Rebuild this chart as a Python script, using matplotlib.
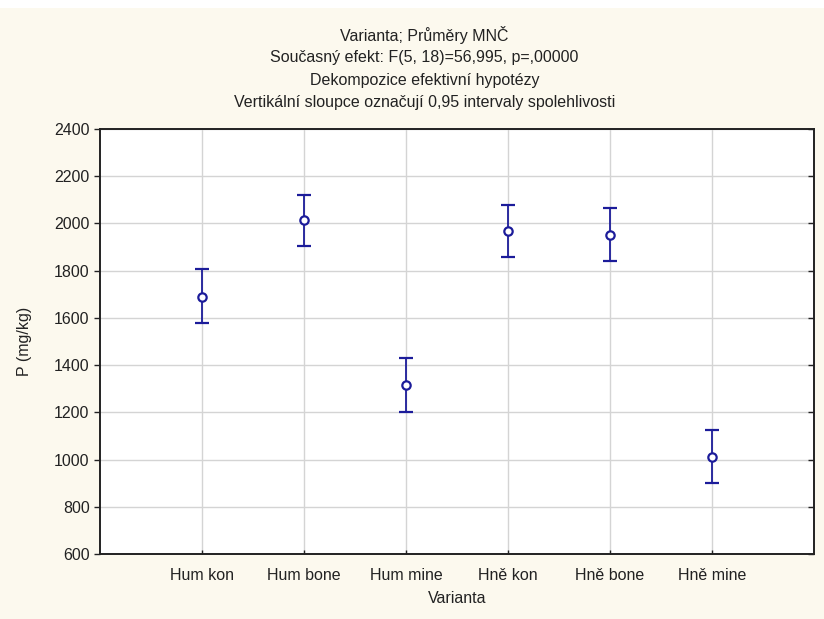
import numpy as np
import matplotlib.pyplot as plt

# group means with 0.95 confidence limits
categories = ["Hum kon", "Hum bone", "Hum mine", "Hně kon", "Hně bone", "Hně mine"]
means = [1690, 2013, 1317, 1968, 1953, 1010]
lower = [1579, 1905, 1202, 1860, 1840, 899]
upper = [1805, 2122, 1430, 2077, 2067, 1124]

title_lines = [
    "Varianta; Průměry MNČ",
    "Současný efekt: F(5, 18)=56,995, p=,00000",
    "Dekompozice efektivní hypotézy",
    "Vertikální sloupce označují 0,95 intervaly spolehlivosti",
]

plt.rcParams['font.family'] = ['Liberation Sans Narrow', 'Liberation Sans', 'DejaVu Sans']

bg = "#fcf9ee"
navy = "#1c1c9a"
ink = "#222222"

fig = plt.figure(figsize=(8.24, 6.19), dpi=100, facecolor=bg)
# thin white strip along the top edge
fig.patches.append(plt.Rectangle((0, 1 - 8 / 619), 1, 8 / 619, transform=fig.transFigure,
                                 facecolor="white", edgecolor="none", zorder=0))

ax = fig.add_axes([100 / 824, 1 - 554 / 619, 714 / 824, 425 / 619])
ax.set_facecolor("white")

x = np.arange(1, len(categories) + 1)
m = np.array(means)
err = np.vstack([m - np.array(lower), np.array(upper) - m])
ax.errorbar(x, m, yerr=err, fmt='o', color=navy, ecolor=navy,
            mfc='white', mec=navy, ms=6, mew=1.6, elinewidth=1.3,
            capsize=5, capthick=1.3, zorder=3)

yticks = np.arange(600, 2401, 200)
ax.set_xlim(0, 7)
ax.set_ylim(600, 2400)
ax.set_xticks(x)
ax.set_xticklabels(categories)
ax.set_yticks(yticks)
ax.grid(True, color="#d4d4d4", linewidth=1.0)
ax.set_axisbelow(True)

for s in ax.spines.values():
    s.set_color(ink)
    s.set_linewidth(1.4)

ax.tick_params(axis='both', labelsize=11.5, colors=ink, width=1)
ax.tick_params(axis='y', left=True, direction='out', length=4)
ax.tick_params(axis='x', direction='in', length=3, pad=10)

# right-hand ticks point into the plot
ax_r = ax.twinx()
ax_r.set_ylim(ax.get_ylim())
ax_r.set_yticks(yticks)
ax_r.tick_params(axis='y', direction='in', length=4, width=1, color=ink, labelright=False)
for s in ax_r.spines.values():
    s.set_visible(False)

ax.set_xlabel("Varianta", fontsize=11.5, color=ink, labelpad=6)
ax.set_ylabel("P (mg/kg)", fontsize=11.5, color=ink, labelpad=16)

for i, line in enumerate(title_lines):
    fig.text(0.515, 1 - (35 + 22.5 * i) / 619, line, ha='center', va='center',
             fontsize=11.5, color=ink)

fig.savefig("out.png", dpi=100, facecolor=bg)
